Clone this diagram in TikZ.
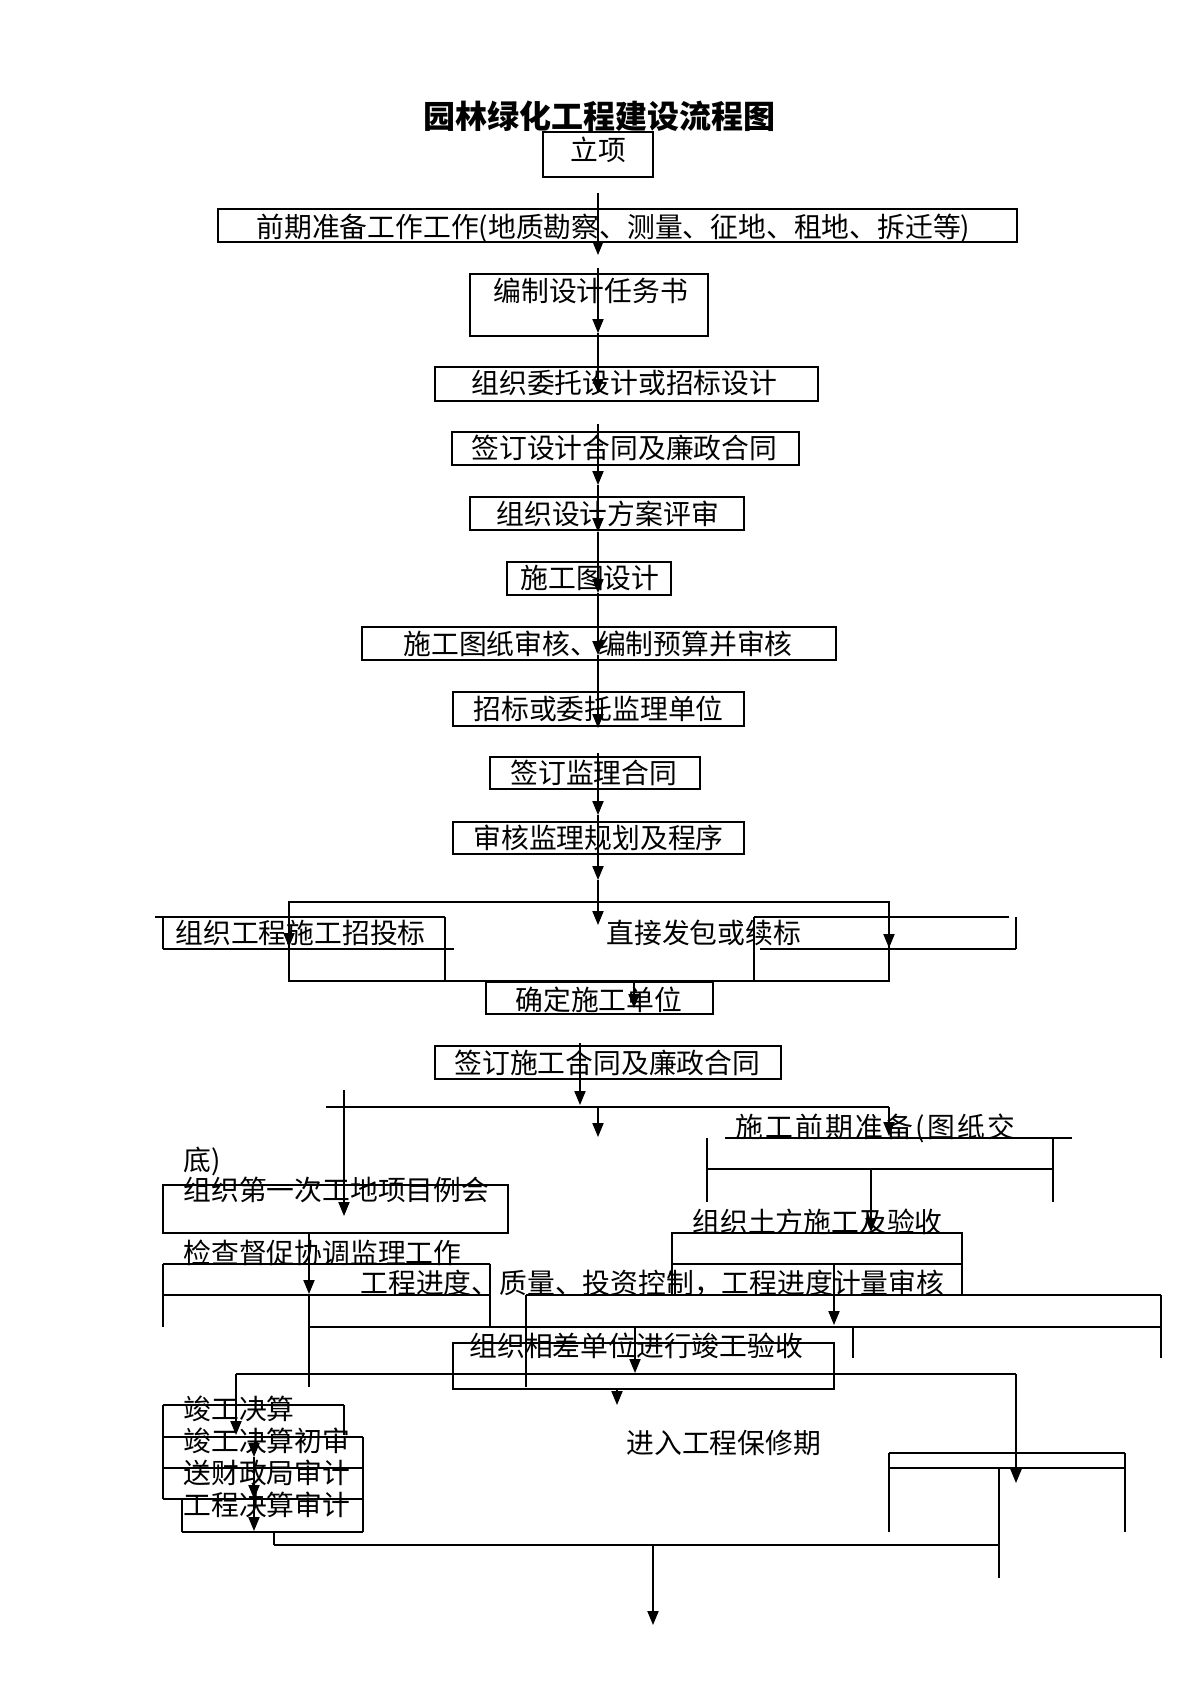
\documentclass[tikz,border=0pt]{standalone}
\usepackage{fontspec}
\newfontfamily\cjk{Noto Sans CJK SC}
\usetikzlibrary{arrows.meta}
\begin{document}
\begin{tikzpicture}[x=0.5pt,y=-0.5pt,
  bx/.style={line width=0.9pt},
  ln/.style={line width=0.7pt},
  ar/.style={line width=0.7pt,-{Triangle[length=7pt,width=5.6pt]}},
  txt/.style={inner sep=0pt,anchor=west,text height=12.2pt,text depth=1.7pt,
    font=\cjk\fontsize{13.9pt}{16pt}\selectfont}]
\useasboundingbox (0,0) rectangle (1200,1697);
\fill[white] (0,0) rectangle (1200,1697);

% title
\node[inner sep=0pt,font=\cjk\bfseries\fontsize{16pt}{18pt}\selectfont] (title) at (599,116) {园林绿化工程建设流程图};

% upper chain of boxes
\draw[bx] (543,132) rectangle (653,177);
\node[txt,anchor=center] (t1) at (598,150) {立项};
\draw[bx] (218,209) rectangle (1017,242);
\node[txt] (t2) at (256,227) {前期准备工作工作(地质勘察、测量、征地、租地、拆迁等)};
\draw[bx] (470,274) rectangle (708,336);
\node[txt] (t3) at (493,291) {编制设计任务书};
\draw[bx] (435,367) rectangle (818,401);
\node[txt] (t4) at (471,383) {组织委托设计或招标设计};
\draw[bx] (452,432) rectangle (799,465);
\node[txt] (t5) at (471,448) {签订设计合同及廉政合同};
\draw[bx] (470,497) rectangle (744,530);
\node[txt] (t6) at (496,514) {组织设计方案评审};
\draw[bx] (507,562) rectangle (671,595);
\node[txt] (t7) at (520,578) {施工图设计};
\draw[bx] (362,627) rectangle (836,660);
\node[txt] (t8) at (403,644) {施工图纸审核、编制预算并审核};
\draw[bx] (453,692) rectangle (744,726);
\node[txt] (t9) at (473,709) {招标或委托监理单位};
\draw[bx] (490,757) rectangle (700,789);
\node[txt] (t10) at (510,773) {签订监理合同};
\draw[bx] (453,822) rectangle (744,854);
\node[txt] (t11) at (473,838) {审核监理规划及程序};

% main vertical arrows
\draw[ar] (598,193) -- (598,255);
\draw[ar] (598,268) -- (598,333);
\draw[ar] (598,333) -- (598,393);
\draw[ar] (598,424) -- (598,485);
\draw[ar] (598,485) -- (598,532);
\draw[ar] (598,532) -- (598,593);
\draw[ar] (598,593) -- (598,655);
\draw[ar] (598,655) -- (598,728);
\draw[ar] (598,753) -- (598,815);
\draw[ar] (598,815) -- (598,880);
\draw[ar] (598,880) -- (598,925);

% tender frame
\draw[bx] (289,902) rectangle (889,981);
\draw[bx] (445,917) -- (445,981);
\draw[bx] (754,917) -- (754,981);
\draw[ar] (289,902) -- (289,947);
\draw[ar] (889,902) -- (889,948);
\draw[bx] (155,917) -- (445,917);
\draw[bx] (163,917) -- (163,949);
\draw[bx] (163,949) -- (454,949);
\node[txt] (t12) at (175,933) {组织工程施工招投标};
\draw[bx] (754,917) -- (1009,917);
\draw[bx] (1016,917) -- (1016,949);
\draw[bx] (760,949) -- (1016,949);
\node[txt] (t13) at (606,933) {直接发包或续标};

\draw[bx] (486,982) rectangle (713,1014);
\node[txt] (t14) at (515,1000) {确定施工单位};
\draw[ar] (634,981) -- (634,1008);

\draw[bx] (435,1046) rectangle (781,1079);
\node[txt] (t15) at (454,1063) {签订施工合同及廉政合同};
\draw[ar] (580,1043) -- (580,1105);
\draw[bx] (326,1107) -- (889,1107);
\draw[ar] (344,1090) -- (344,1216);
\draw[ar] (598,1107) -- (598,1137);
\draw[ar] (889,1107) -- (889,1136);

% right branch: preparation
\node[txt,font=\cjk\fontsize{13.9pt}{16pt}\selectfont\addfontfeatures{LetterSpace=8}] (t16) at (735,1127) {施工前期准备(图纸交};
\draw[bx] (725,1138) -- (1072,1138);
\draw[bx] (707,1138) -- (707,1202);
\draw[bx] (1053,1138) -- (1053,1202);
\draw[bx] (707,1169) -- (1053,1169);
\draw[ar] (871,1169) -- (871,1232);

\node[txt] (t17) at (183,1160) {底)};
\draw[bx] (163,1185) rectangle (508,1233);
\node[txt] (t18) at (183,1190) {组织第一次工地项目例会};

\node[txt] (t19) at (692,1222) {组织土方施工及验收};
\draw[bx] (672,1233) rectangle (962,1295);
\draw[bx] (672,1264) -- (962,1264);
\draw[ar] (834,1264) -- (834,1325);

\node[txt] (t20) at (183,1253) {检查督促协调监理工作};
\draw[bx] (163,1264) -- (490,1264);
\draw[bx] (163,1264) -- (163,1327);
\draw[bx] (490,1264) -- (490,1327);
\draw[bx] (163,1295) -- (490,1295);
\draw[ar] (309,1233) -- (309,1294);
\draw[ln] (309,1294) -- (309,1387);

\node[txt] (t21) at (360,1283) {工程进度、质量、投资控制，工程进度计量审核};
\draw[bx] (526,1295) -- (1161,1295);
\draw[bx] (526,1295) -- (526,1387);
\draw[bx] (1161,1295) -- (1161,1358);
\draw[bx] (309,1327) -- (1161,1327);
\draw[bx] (853,1327) -- (853,1358);
\draw[ar] (635,1327) -- (635,1373);

\draw[bx] (453,1343) rectangle (834,1389);
\node[txt] (t22) at (469,1346) {组织相差单位进行竣工验收};
\draw[bx] (236,1374) -- (1016,1374);
\draw[ar] (236,1374) -- (236,1435);
\draw[ar] (1016,1374) -- (1016,1483);
\draw[ar] (617,1389) -- (617,1405);

\node[txt] (t23) at (626,1443) {进入工程保修期};

% bottom-left stack
\draw[bx] (163,1405) -- (344,1405);
\draw[bx] (344,1405) -- (344,1435);
\draw[bx] (163,1405) -- (163,1499);
\draw[bx] (163,1437) -- (363,1437);
\draw[bx] (363,1437) -- (363,1532);
\draw[bx] (163,1468) -- (363,1468);
\draw[bx] (163,1499) -- (363,1499);
\draw[bx] (182,1499) -- (182,1532);
\draw[bx] (182,1532) -- (363,1532);
\node[txt] (t24) at (183,1409) {竣工决算};
\node[txt] (t25) at (183,1441) {竣工决算初审};
\node[txt] (t26) at (183,1473) {送财政局审计};
\node[txt] (t27) at (183,1505) {工程决算审计};
\draw[ar] (254,1443) -- (254,1457);
\draw[ar] (254,1457) -- (254,1499);
\draw[ar] (254,1499) -- (254,1531);

% bottom connectors
\draw[bx] (274,1532) -- (274,1545);
\draw[bx] (274,1545) -- (999,1545);
\draw[ar] (653,1545) -- (653,1625);
\draw[bx] (999,1468) -- (999,1578);

% right bottom box
\draw[bx] (889,1453) -- (1125,1453);
\draw[bx] (889,1468) -- (1125,1468);
\draw[bx] (889,1453) -- (889,1532);
\draw[bx] (1125,1453) -- (1125,1532);
\end{tikzpicture}
\end{document}
